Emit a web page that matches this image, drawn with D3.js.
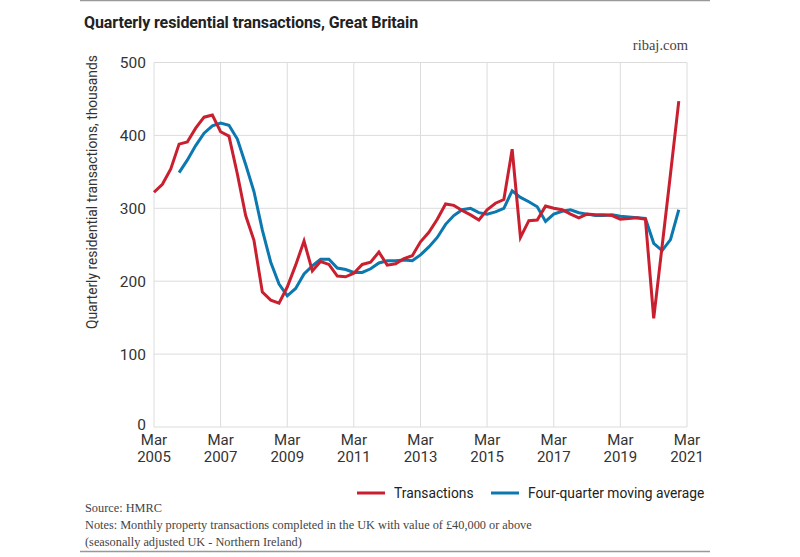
<!DOCTYPE html>
<html>
<head>
<meta charset="utf-8">
<script src="https://cdn.jsdelivr.net/npm/d3@7"></script>
<style>
  body { margin: 0; background: #fff; }
  svg { display: block; }
</style>
</head>
<body>
<script>
// quarterly, Mar 2005 .. Dec 2020 (thousands)
var startQuarter = new Date(2005, 2, 1);
var transactions = [
  322, 333, 354, 388, 391, 410, 425, 428,
  405, 399, 347, 290, 256, 185, 174, 170,
  192, 222, 255, 214, 227, 223, 207, 206,
  211, 223, 226, 240, 222, 224, 231, 235,
  254, 267, 285, 306, 304, 297, 291, 284,
  298, 307, 312, 381, 260, 283, 284, 303,
  300, 298, 292, 287, 292, 291, 291, 290,
  285, 286, 287, 285, 149, 248, 347, 447
];
// four-quarter moving average, starts Dec 2005
var movingAvg = [
  349, 366, 386, 403, 413,
  417, 414, 395, 360, 323, 270, 226, 196,
  180, 190, 210, 221, 230, 230, 218, 216,
  212, 212, 217, 225, 228, 228, 229, 228,
  236, 247, 260, 278, 290, 298, 300, 294,
  292, 295, 300, 324, 315, 309, 302, 282,
  292, 296, 298, 294, 292, 290, 290, 291,
  289, 288, 287, 286, 252, 242, 257, 298
];
var yTicks = [0, 100, 200, 300, 400, 500];
var xTickYears = [2005, 2007, 2009, 2011, 2013, 2015, 2017, 2019, 2021];

var redC = "#c91f2e", blueC = "#0b78b0";

var width = 800, height = 557;
var svg = d3.select("body").append("svg")
    .attr("width", width).attr("height", height);

var x = d3.scaleTime()
    .domain([new Date(2005, 2, 1), new Date(2021, 2, 1)])
    .range([154, 687]);
var y = d3.scaleLinear().domain([0, 500]).range([427, 62.5]);

var qDate = (i) => d3.timeMonth.offset(startQuarter, 3 * i);

// rules top and bottom
svg.append("line").attr("x1", 80).attr("x2", 710).attr("y1", 0.5).attr("y2", 0.5)
    .attr("stroke", "#999").attr("stroke-width", 1.5);
svg.append("line").attr("x1", 80).attr("x2", 710).attr("y1", 551.5).attr("y2", 551.5)
    .attr("stroke", "#999").attr("stroke-width", 1.5);

svg.append("text")
    .attr("x", 84).attr("y", 28)
    .attr("font-family", "Roboto, sans-serif")
    .attr("font-weight", "bold")
    .attr("font-size", 16)
    .attr("letter-spacing", -0.1)
    .attr("fill", "#222")
    .text("Quarterly residential transactions, Great Britain");

svg.append("text")
    .attr("x", 688).attr("y", 50)
    .attr("text-anchor", "end")
    .attr("font-family", "'Liberation Serif', serif")
    .attr("font-size", 14.5)
    .attr("fill", "#444")
    .text("ribaj.com");

// grid
svg.append("g")
    .selectAll("line")
    .data(yTicks)
    .enter().append("line")
    .attr("x1", 154).attr("x2", 687)
    .attr("y1", (d) => y(d)).attr("y2", (d) => y(d))
    .attr("stroke", "#dcdcdc").attr("stroke-width", 1);

svg.append("g")
    .selectAll("line")
    .data(xTickYears)
    .enter().append("line")
    .attr("x1", (d) => x(new Date(d, 2, 1))).attr("x2", (d) => x(new Date(d, 2, 1)))
    .attr("y1", 62.5).attr("y2", 427)
    .attr("stroke", "#dcdcdc").attr("stroke-width", 1);

// y labels
svg.append("g")
    .selectAll("text")
    .data(yTicks)
    .enter().append("text")
    .attr("x", 146)
    .attr("y", (d) => y(d) + (d == 0 ? 3 : 5.5))
    .attr("text-anchor", "end")
    .attr("font-family", "Roboto, sans-serif")
    .attr("font-size", 15.5)
    .attr("fill", "#333")
    .text((d) => d);

// x labels
var xl = svg.append("g")
    .selectAll("text")
    .data(xTickYears)
    .enter().append("text")
    .attr("text-anchor", "middle")
    .attr("font-family", "Roboto, sans-serif")
    .attr("font-size", 15)
    .attr("fill", "#333");
xl.append("tspan").attr("x", (d) => x(new Date(d, 2, 1))).attr("y", 445).text("Mar");
xl.append("tspan").attr("x", (d) => x(new Date(d, 2, 1))).attr("y", 462).text((d) => d);

svg.append("text")
    .attr("transform", "translate(97,329) rotate(-90)")
    .attr("font-family", "Roboto, sans-serif")
    .attr("font-size", 13.8)
    .attr("fill", "#333")
    .text("Quarterly residential transactions, thousands");

var line = d3.line()
    .x((d) => x(d.date))
    .y((d) => y(d.v));

var avgData = movingAvg.map((v, i) => ({ date: qDate(i + 3), v: v }));
var trData = transactions.map((v, i) => ({ date: qDate(i), v: v }));

svg.append("path")
    .datum(avgData)
    .attr("d", line)
    .attr("fill", "none")
    .attr("stroke", blueC)
    .attr("stroke-width", 3);

svg.append("path")
    .datum(trData)
    .attr("d", line)
    .attr("fill", "none")
    .attr("stroke", redC)
    .attr("stroke-width", 3);

// legend
var legend = [
  { name: "Transactions", color: redC, x: 357 },
  { name: "Four-quarter moving average", color: blueC, x: 491 }
];
var lg = svg.append("g").selectAll("g")
    .data(legend)
    .enter().append("g");
lg.append("line")
    .attr("x1", (d) => d.x).attr("x2", (d) => d.x + 28)
    .attr("y1", 493).attr("y2", 493)
    .attr("stroke", (d) => d.color).attr("stroke-width", 3);
lg.append("text")
    .attr("x", (d) => d.x + 37).attr("y", 498)
    .attr("font-family", "Roboto, sans-serif")
    .attr("font-size", 13.8)
    .attr("fill", "#222")
    .text((d) => d.name);

var notes = [
  "Source: HMRC",
  "Notes: Monthly property transactions completed in the UK with value of £40,000 or above",
  "(seasonally adjusted UK - Northern Ireland)"
];
svg.append("g")
    .selectAll("text")
    .data(notes)
    .enter().append("text")
    .attr("x", 85)
    .attr("y", (d, i) => 512 + i * 17)
    .attr("font-family", "'Liberation Serif', serif")
    .attr("font-size", 12.3)
    .attr("fill", "#444")
    .text((d) => d);
</script>
</body>
</html>
